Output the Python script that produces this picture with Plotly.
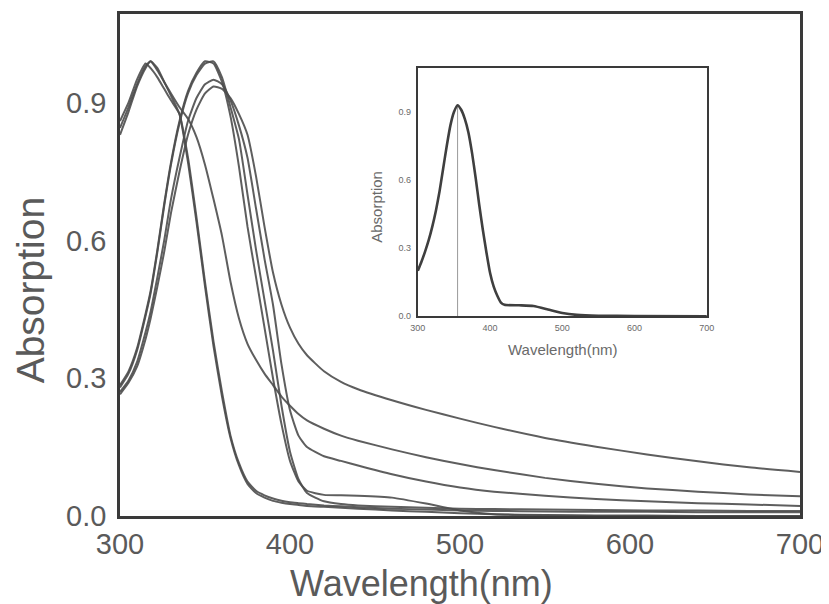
import plotly.graph_objects as go

# ---------------- data ----------------
wavelength = [300, 305, 310, 315, 318, 322, 326, 330, 335, 340, 345, 350, 355, 360, 365,
              370, 375, 380, 385, 390, 395, 400, 405, 410, 420, 430, 440, 460, 480, 500,
              520, 550, 580, 610, 640, 670, 700]

# group peaking near 318 nm
curve_a1 = [0.83, 0.88, 0.935, 0.975, 0.99, 0.975, 0.945, 0.915, 0.875, 0.77, 0.64, 0.50, 0.37, 0.26, 0.17,
            0.11, 0.07, 0.05, 0.04, 0.033, 0.029, 0.026, 0.024, 0.022, 0.02, 0.018, 0.016, 0.012, 0.009, 0.006,
            0.004, 0.002, 0.001, 0.001, 0.0, 0.0, 0.0]
curve_a3 = [0.86, 0.90, 0.95, 0.985, 0.975, 0.955, 0.93, 0.905, 0.875, 0.78, 0.65, 0.51, 0.38, 0.27, 0.175,
            0.115, 0.075, 0.055, 0.045, 0.038, 0.033, 0.03, 0.028, 0.026, 0.023, 0.021, 0.019, 0.016, 0.014, 0.012,
            0.011, 0.01, 0.009, 0.009, 0.008, 0.008, 0.008]
curve_a2 = [0.845, 0.89, 0.94, 0.98, 0.99, 0.97, 0.945, 0.92, 0.89, 0.865, 0.825, 0.765, 0.69, 0.61, 0.51,
            0.43, 0.375, 0.34, 0.31, 0.285, 0.26, 0.24, 0.222, 0.208, 0.19, 0.175, 0.164, 0.145, 0.128, 0.113,
            0.10, 0.083, 0.07, 0.06, 0.053, 0.047, 0.043]

# group peaking near 352 nm
curve_b1 = [0.285, 0.315, 0.365, 0.44, 0.49, 0.58, 0.68, 0.77, 0.86, 0.925, 0.965, 0.99, 0.985, 0.945, 0.87,
            0.76, 0.63, 0.52, 0.41, 0.30, 0.20, 0.12, 0.075, 0.055, 0.046, 0.045, 0.044, 0.04, 0.027, 0.012,
            0.004, 0.001, 0.0, 0.0, 0.0, 0.0, 0.0]
curve_b2 = [0.28, 0.31, 0.36, 0.435, 0.485, 0.575, 0.675, 0.765, 0.855, 0.92, 0.96, 0.985, 0.99, 0.955, 0.89,
            0.82, 0.70, 0.58, 0.47, 0.36, 0.24, 0.14, 0.08, 0.05, 0.032, 0.026, 0.023, 0.02, 0.018, 0.016,
            0.015, 0.014, 0.013, 0.012, 0.012, 0.011, 0.011]
curve_b3 = [0.27, 0.295, 0.335, 0.40, 0.445, 0.52, 0.60, 0.69, 0.78, 0.86, 0.91, 0.94, 0.95, 0.94, 0.905,
            0.85, 0.78, 0.67, 0.56, 0.46, 0.33, 0.23, 0.175, 0.15, 0.13, 0.12, 0.11, 0.091, 0.075, 0.062,
            0.053, 0.044, 0.037, 0.032, 0.028, 0.025, 0.022]
curve_b4 = [0.265, 0.29, 0.325, 0.385, 0.43, 0.50, 0.575, 0.66, 0.75, 0.83, 0.885, 0.92, 0.935, 0.93, 0.91,
            0.875, 0.83, 0.74, 0.63, 0.53, 0.46, 0.41, 0.375, 0.35, 0.315, 0.292, 0.276, 0.252, 0.231, 0.212,
            0.194, 0.17, 0.151, 0.134, 0.119, 0.106, 0.096]

main_series = [curve_a1, curve_a3, curve_a2, curve_b1, curve_b2, curve_b3, curve_b4]

# inset spectrum
inset_wavelength = [300, 305, 310, 315, 320, 325, 330, 335, 340, 345, 350, 355, 360, 365, 370,
                    375, 380, 385, 390, 395, 400, 405, 410, 415, 420, 440, 460, 480, 500, 520,
                    550, 600, 700]
inset_absorption = [0.20, 0.24, 0.285, 0.335, 0.395, 0.465, 0.55, 0.65, 0.75, 0.84, 0.90, 0.93, 0.91, 0.87, 0.81,
                    0.72, 0.61, 0.49, 0.38, 0.28, 0.19, 0.13, 0.09, 0.06, 0.05, 0.048, 0.045, 0.03, 0.014, 0.006,
                    0.002, 0.001, 0.0]
inset_marker_x = [355, 355]
inset_marker_y = [0.0, 0.93]

x_ticks = [300, 400, 500, 600, 700]
y_ticks = [0.0, 0.3, 0.6, 0.9]
y_tick_text = ["0.0", "0.3", "0.6", "0.9"]

# ---------------- figure ----------------
FONT = "Liberation Sans, Arial, sans-serif"
LINE = "#4d4d4d"
AXIS = "#3a3a3a"
TXT = "#5a5a5a"

fig = go.Figure()
for ys in main_series:
    fig.add_trace(go.Scatter(x=wavelength, y=ys, mode="lines",
                             line=dict(color=LINE, width=2, shape="spline", smoothing=0.5),
                             opacity=0.9, showlegend=False, hoverinfo="skip",
                             xaxis="x", yaxis="y"))

fig.add_trace(go.Scatter(x=inset_marker_x, y=inset_marker_y, mode="lines",
                         line=dict(color="#9a9a9a", width=1), showlegend=False,
                         hoverinfo="skip", xaxis="x2", yaxis="y2"))
fig.add_trace(go.Scatter(x=inset_wavelength, y=inset_absorption, mode="lines",
                         line=dict(color="#3f3f3f", width=2.6, shape="spline", smoothing=0.5),
                         showlegend=False, hoverinfo="skip", xaxis="x2", yaxis="y2"))

axis_common = dict(showgrid=False, zeroline=False, showline=True, mirror=True,
                   linecolor=AXIS, ticks="", automargin=False)

# the page body adds an 8px offset, so the figure is 8px smaller and the margins shifted
fig.update_layout(
    width=821, height=596,
    margin=dict(l=112, r=29, t=6, b=88),
    paper_bgcolor="white", plot_bgcolor="white",
    font=dict(family=FONT, color=TXT),
    xaxis=dict(domain=[0, 1], range=[300, 700], tickvals=x_ticks,
               tickfont=dict(size=29, color=TXT), linewidth=2.5,
               ticklabelstandoff=0, **axis_common),
    yaxis=dict(domain=[0, 1], range=[0, 1.093], tickvals=y_ticks, ticktext=y_tick_text,
               tickfont=dict(size=29, color=TXT), linewidth=2.5,
               ticklabelstandoff=5, **axis_common),
    xaxis2=dict(domain=[0.438, 0.863], anchor="y2", range=[300, 700], tickvals=x_ticks,
                tickfont=dict(size=9, color="#6a6a6a"), linewidth=2,
                ticklabelstandoff=2, **axis_common),
    yaxis2=dict(domain=[0.398, 0.892], anchor="x2", range=[0, 1.093], tickvals=y_ticks,
                ticktext=y_tick_text, tickfont=dict(size=9, color="#6a6a6a"), linewidth=2,
                ticklabelstandoff=3, **axis_common),
    annotations=[
        dict(text="Wavelength(nm)", xref="paper", yref="paper", x=0.443, y=-0.135,
             xanchor="center", yanchor="middle", showarrow=False,
             font=dict(size=36, color=TXT, family=FONT)),
        dict(text="Absorption", xref="paper", yref="paper", x=-0.132, y=0.45,
             xanchor="center", yanchor="middle", textangle=-90, showarrow=False,
             font=dict(size=39, color=TXT, family=FONT)),
        dict(text="Wavelength(nm)", xref="paper", yref="paper", x=0.65, y=0.331,
             xanchor="center", yanchor="middle", showarrow=False,
             font=dict(size=15, color="#6a6a6a", family=FONT)),
        dict(text="Absorption", xref="paper", yref="paper", x=0.378, y=0.616,
             xanchor="center", yanchor="middle", textangle=-90, showarrow=False,
             font=dict(size=15, color="#6a6a6a", family=FONT)),
    ],
)

fig.write_html("out.html")
